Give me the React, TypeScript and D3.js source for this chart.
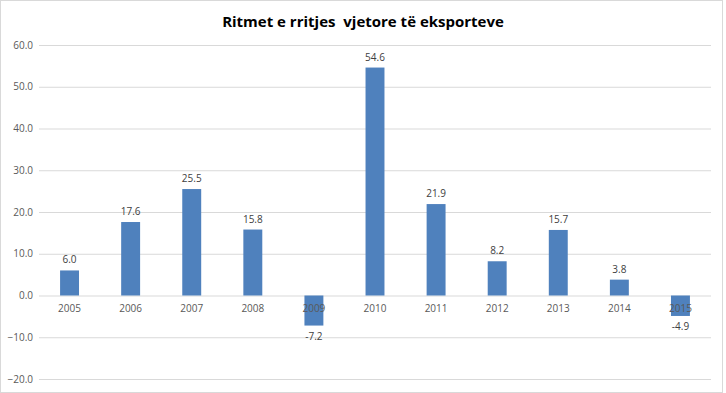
import { useEffect, useRef } from "react";
import * as d3 from "d3";

const years = ["2005", "2006", "2007", "2008", "2009", "2010", "2011", "2012", "2013", "2014", "2015"];
const growth = [6.0, 17.6, 25.5, 15.8, -7.2, 54.6, 21.9, 8.2, 15.7, 3.8, -4.9];
const yTicks = [-20, -10, 0, 10, 20, 30, 40, 50, 60];
const title = "Ritmet e rritjes  vjetore të eksporteve";

const WIDTH = 726;
const HEIGHT = 393;
const MARGIN = { top: 45, right: 15, bottom: 14, left: 39 };
const FONT = "'Open Sans', 'Liberation Sans', sans-serif";

export default function App() {
  const axesRef = useRef<SVGGElement>(null);
  const boundsWidth = WIDTH - MARGIN.left - MARGIN.right;
  const boundsHeight = HEIGHT - MARGIN.top - MARGIN.bottom;

  const xScale = d3
    .scaleBand()
    .domain(years)
    .range([0, boundsWidth])
    .paddingInner(0.69)
    .paddingOuter(0.345);
  const yScale = d3.scaleLinear().domain([-20, 60]).range([boundsHeight, 0]);

  // gridlines + y labels through d3
  useEffect(() => {
    const g = d3.select(axesRef.current);
    g.selectAll("*").remove();
    const yAxis = d3
      .axisLeft(yScale)
      .tickValues(yTicks)
      .tickSize(-boundsWidth)
      .tickPadding(6)
      .tickFormat((d) => d3.format(".1f")(d as number));
    const ax = g.append("g").call(yAxis);
    ax.select(".domain").remove();
    ax.selectAll(".tick line").attr("stroke", "#d9d9d9").attr("stroke-width", 1);
    ax.selectAll(".tick text")
      .attr("fill", "#595959")
      .attr("font-size", 10)
      .attr("font-family", FONT);
  }, []);

  const bw = xScale.bandwidth();

  return (
    <svg
      width={WIDTH}
      height={HEIGHT}
      style={{ position: "absolute", left: 0, top: 0, background: "#fff" }}
    >
      <rect x={0.5} y={0.5} width={WIDTH - 4} height={HEIGHT - 1} fill="#fff" stroke="#d9d9d9" />
      <text
        x={363}
        y={27}
        textAnchor="middle"
        fontFamily={FONT}
        fontWeight="bold"
        fontSize={15}
        fill="#000"
        style={{ whiteSpace: "pre" }}
      >
        {title}
      </text>
      <g transform={`translate(${MARGIN.left},${MARGIN.top})`}>
        <g ref={axesRef} />
        {years.map((yr, i) => {
          const v = growth[i];
          const x = xScale(yr)!;
          const y0 = yScale(0);
          const y1 = yScale(v);
          return (
            <g key={yr}>
              <rect
                x={x}
                y={Math.min(y0, y1)}
                width={bw}
                height={Math.abs(y1 - y0)}
                fill="#4f81bd"
              />
              <text
                x={x + bw / 2}
                y={v >= 0 ? y1 - 7 : y1 + 14}
                textAnchor="middle"
                fontFamily={FONT}
                fontSize={10}
                fill="#404040"
              >
                {v.toFixed(1)}
              </text>
              <text
                x={x + bw / 2}
                y={y0 + 16}
                textAnchor="middle"
                fontFamily={FONT}
                fontSize={10}
                fill="#595959"
              >
                {yr}
              </text>
            </g>
          );
        })}
      </g>
    </svg>
  );
}
